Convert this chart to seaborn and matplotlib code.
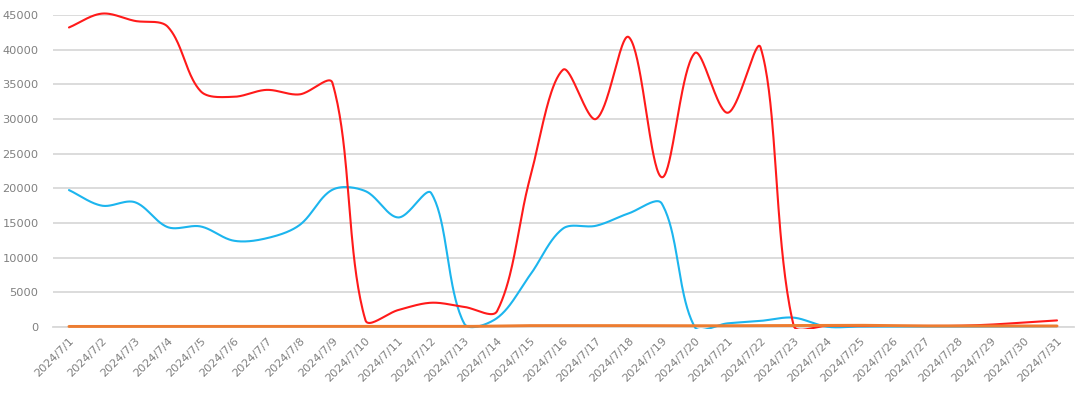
import numpy as np
import pandas as pd
import matplotlib
matplotlib.use("Agg")
import matplotlib.pyplot as plt
from matplotlib.patches import Rectangle
import seaborn as sns

# ---- data ----
dates = [f"2024/7/{d}" for d in range(1, 32)]
red_values = [43200, 45200, 44150, 43300, 34000, 33200, 34200, 33550, 35200, 1000,
              2450, 3500, 2900, 2300, 21500, 37100, 30000, 41800, 21600, 39500,
              30900, 40300, 250, 150, 150, 150, 150, 180, 350, 650, 950]
cyan_values = [19750, 17500, 18000, 14400, 14500, 12450, 12800, 14700, 19800, 19600,
               15800, 19300, 500, 1300, 7500, 14200, 14600, 16400, 17800, 0,
               530, 880, 1350, 50, 60, 70, 70, 70, 80, 100, 130]
orange_values = [80, 80, 80, 80, 80, 80, 80, 80, 80, 80,
                 80, 80, 80, 150, 200, 200, 200, 200, 200, 180,
                 180, 200, 220, 250, 250, 180, 150, 150, 150, 150, 150]
y_ticks = [0, 5000, 10000, 15000, 20000, 25000, 30000, 35000, 40000, 45000]

series = [
    ("cyan", cyan_values, "#1cb5ee", 1.5),
    ("red", red_values, "#ff1a1a", 1.5),
    ("orange", orange_values, "#ed7d31", 2.1),
]

# pixel scale used for smoothing in screen space
PX_X = 1021 / 31.0
PX_Y = 312 / 45000.0


def smooth(vals, n=40, tension=1 / 3):
    """Excel-style smoothed line: Bezier through the points, tangent
    lengths proportional to neighbouring chord lengths (screen space)."""
    p = np.column_stack([np.arange(len(vals)) * PX_X, np.asarray(vals, float) * PX_Y])
    k = len(p)
    cin = np.zeros_like(p)
    cout = np.zeros_like(p)
    for i in range(k):
        prev = p[i - 1] if i > 0 else p[i]
        nxt = p[i + 1] if i < k - 1 else p[i]
        d = nxt - prev
        l1 = np.hypot(*(p[i] - prev))
        l2 = np.hypot(*(nxt - p[i]))
        s = l1 + l2 if (l1 + l2) > 0 else 1.0
        cin[i] = p[i] - d * tension * l1 / s
        cout[i] = p[i] + d * tension * l2 / s
    xs, ys = [], []
    for i in range(k - 1):
        t = np.linspace(0, 1, n, endpoint=(i == k - 2))[:, None]
        b = ((1 - t) ** 3) * p[i] + 3 * ((1 - t) ** 2) * t * cout[i] \
            + 3 * (1 - t) * t ** 2 * cin[i + 1] + t ** 3 * p[i + 1]
        xs.append(b[:, 0] / PX_X)
        ys.append(b[:, 1] / PX_Y)
    return np.concatenate(xs), np.concatenate(ys)


sns.set_theme(style="white")
plt.rcParams["font.family"] = ["DejaVu Sans"]

fig = plt.figure(figsize=(10.8, 3.93), dpi=100)
ax = fig.add_axes([52.5 / 1080, 66 / 393, 1021 / 1080, 312 / 393])

for name, vals, color, lw in series:
    xs, ys = smooth(vals)
    df = pd.DataFrame({"x": xs, "y": ys})
    sns.lineplot(data=df, x="x", y="y", ax=ax, color=color, linewidth=lw,
                 sort=False, estimator=None)

# plot-area clip slightly larger than the axes (lines sitting on 0 stay whole)
clip = Rectangle((-0.01, -0.007), 1.02, 1.05, transform=ax.transAxes,
                 facecolor="none", edgecolor="none")
for line in ax.get_lines():
    line.set_clip_path(clip)
    line.set_zorder(3)

ax.set_xlim(-0.5, len(dates) - 0.5)
ax.set_ylim(0, 45000)
ax.set_yticks(y_ticks)
ax.set_yticklabels([str(v) for v in y_ticks], color="#808080", fontsize=8.2)
ax.yaxis.grid(True, color="#d9d9d9", linewidth=1.3)
ax.set_axisbelow(True)

ax.set_xticks(range(len(dates)))
ax.set_xticklabels(dates, rotation=45, ha="right", rotation_mode="anchor",
                   color="#808080", fontsize=8.2)
ax.set_xticks(np.arange(-0.5, len(dates), 1.0), minor=True)
ax.tick_params(axis="x", which="major", length=0, pad=6)
ax.tick_params(axis="x", which="minor", length=4, color="#d9d9d9", width=1)
ax.tick_params(axis="y", length=0, pad=10)

for s in ["top", "right", "left"]:
    ax.spines[s].set_visible(False)
ax.spines["bottom"].set_color("#d9d9d9")
ax.spines["bottom"].set_linewidth(1.3)

ax.set_xlabel("")
ax.set_ylabel("")
fig.savefig("out.png", dpi=100, facecolor="white")
